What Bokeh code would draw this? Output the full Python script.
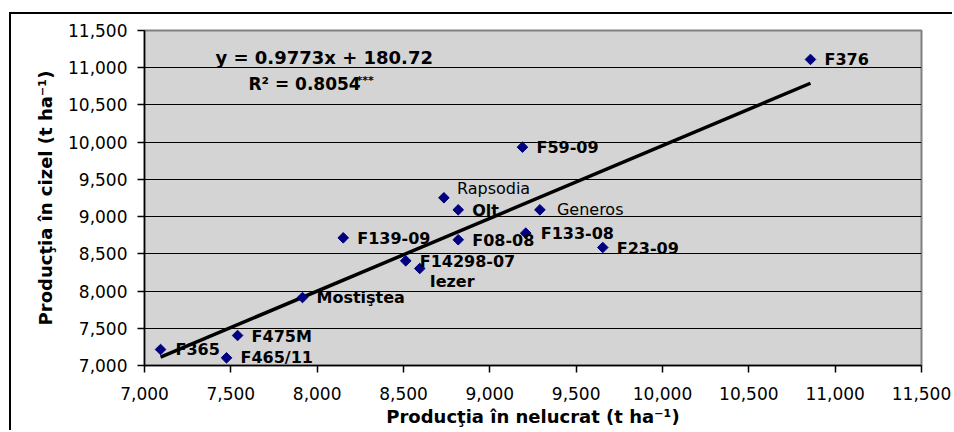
from math import pi
from bokeh.plotting import figure
from bokeh.models import ColumnDataSource, FixedTicker, NumeralTickFormatter, Range1d, Label
from bokeh.embed import file_html
from bokeh.resources import INLINE
from bokeh.core.properties import value

# ---- data ----
genotypes = ["F376", "F59-09", "Rapsodia", "Olt", "Generos", "F139-09", "F08-08", "F133-08",
             "F23-09", "F14298-07", "Iezer", "Mostiştea", "F475M", "F365", "F465/11"]
yield_untilled = [10857, 9189, 8734, 8817, 9290, 8151, 8817, 9208, 9654, 8513, 8594, 7915, 7539, 7093, 7475]
yield_chisel = [11111, 9933, 9253, 9091, 9091, 8715, 8689, 8778, 8585, 8406, 8303, 7913, 7403, 7215, 7103]
bold_label = [True, True, False, True, False, True, True, True, True, True, True, True, True, True, True]
tick_values = [7000, 7500, 8000, 8500, 9000, 9500, 10000, 10500, 11000, 11500]
slope, intercept = 0.9773, 180.72
eq_text = "y = 0.9773x + 180.72"
r2_text = "R² = 0.8054"
r2_sig = "***"
x_title = "Producţia în nelucrat (t ha⁻¹)"
y_title = "Producţia în cizel (t ha⁻¹)"

# label offsets in screen pixels (style)
label_dx = [14, 14, 13, 14, 17, 14, 14, 15, 14, 14, 10, 14, 14, 15, 14]
label_dy = [0, 0, -9, 1, 0, 1, 1, 0, 1, 1, 13, 0, 1, 0, 0]

FONT = "DejaVu Sans"

p = figure(width=943, height=418,
           x_range=Range1d(7000, 11500), y_range=Range1d(7000, 11500),
           output_backend="svg", toolbar_location=None,
           min_border_left=133, min_border_right=33, min_border_top=16, min_border_bottom=67)
p.styles = {"margin-left": "9px", "margin-top": "12px",
            "border-left": "2px solid black", "border-top": "2px solid black"}

p.background_fill_color = "#d4d4d4"
p.border_fill_color = "white"
p.outline_line_color = "#808080"
p.outline_line_width = 2

for ax in (p.xaxis[0], p.yaxis[0]):
    ax.ticker = FixedTicker(ticks=tick_values)
    ax.formatter = NumeralTickFormatter(format="0,0")
    ax.minor_tick_line_color = None
    ax.major_tick_in = 0
    ax.major_tick_out = 7
    ax.axis_line_color = "black"
    ax.axis_line_width = 1.5
    ax.major_tick_line_color = "black"
    ax.major_tick_line_width = 1.5
    ax.major_label_text_font = FONT
    ax.major_label_text_font_size = "17px"
    ax.major_label_text_color = "black"
    ax.axis_label_text_font = FONT
    ax.axis_label_text_font_size = "18px"
    ax.axis_label_text_font_style = "bold"
    ax.axis_label_text_color = "black"

p.xaxis.axis_label = x_title
p.yaxis.axis_label = y_title
p.xaxis.major_label_standoff = 14
p.xaxis.axis_label_standoff = 3
p.yaxis.major_label_standoff = 10
p.yaxis.axis_label_standoff = 9

p.xgrid.visible = False
p.ygrid.ticker = FixedTicker(ticks=tick_values[1:-1])
p.ygrid.grid_line_color = "black"
p.ygrid.grid_line_width = 1.2
p.ygrid.grid_line_alpha = 1.0

# trend line
xmin, xmax = min(yield_untilled), max(yield_untilled)
p.line([xmin, xmax], [slope * xmin + intercept, slope * xmax + intercept],
       line_color="black", line_width=3.5)

src = ColumnDataSource(dict(x=yield_untilled, y=yield_chisel, name=genotypes,
                            dx=label_dx, dy=label_dy, bold=bold_label))
p.scatter("x", "y", source=src, marker="square", angle=pi / 4, size=7.5,
          fill_color="#000080", line_color="#000080")

def subset(flag):
    idx = [i for i, b in enumerate(bold_label) if b == flag]
    return ColumnDataSource(dict(x=[yield_untilled[i] for i in idx],
                                 y=[yield_chisel[i] for i in idx],
                                 name=[genotypes[i] for i in idx],
                                 dx=[label_dx[i] for i in idx],
                                 dy=[label_dy[i] for i in idx]))

for flag, style in ((True, "bold"), (False, "normal")):
    p.text("x", "y", text="name", source=subset(flag), x_offset="dx", y_offset="dy",
           text_font=value(FONT), text_font_size="16px", text_font_style=style,
           text_color="black", text_align="left", text_baseline="middle")

p.add_layout(Label(x=7411, y=11137, text=eq_text, text_font=FONT, text_font_size="18px",
                   text_font_style="bold", text_color="black", text_baseline="middle"))
p.add_layout(Label(x=7602, y=10775, text=r2_text, text_font=FONT, text_font_size="17px",
                   text_font_style="bold", text_color="black", text_baseline="middle"))
p.add_layout(Label(x=7602, y=10775, x_offset=108, y_offset=4, text=r2_sig, text_font=FONT,
                   text_font_size="11px", text_font_style="bold", text_color="black",
                   text_baseline="middle"))

open("out.html", "w").write(file_html(p, INLINE))
